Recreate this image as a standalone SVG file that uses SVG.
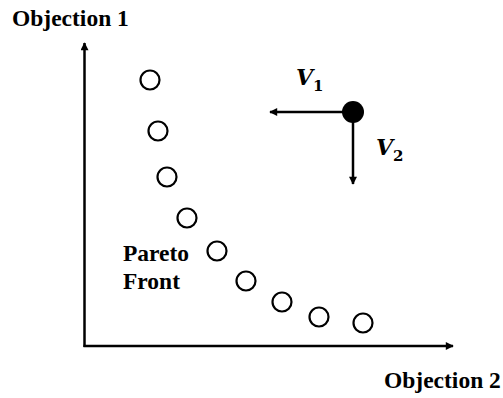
<svg xmlns="http://www.w3.org/2000/svg" width="503" height="398" viewBox="0 0 503 398">
<style>
.lbl{font-family:"Liberation Serif","Times New Roman",serif;font-weight:bold;font-size:23.5px;fill:#000}
.v{font-family:"DejaVu Serif","Liberation Serif",serif;font-weight:bold;font-style:italic;fill:#000}
.pt{fill:#fff;stroke:#000;stroke-width:2.2}
.ln{stroke:#000;stroke-width:2.5;fill:none}
</style>
<defs>
<marker id="ah" viewBox="0 0 10 10" refX="9" refY="5" markerWidth="9" markerHeight="8" markerUnits="userSpaceOnUse" orient="auto">
<path d="M0,0 L10,5 L0,10 Z" fill="#000"/>
</marker>
</defs>
<g id="connectors">
<line class="ln" x1="84.5" y1="347" x2="84.5" y2="43" marker-end="url(#ah)"/>
<line class="ln" x1="83.5" y1="346" x2="453" y2="346" marker-end="url(#ah)"/>
<line class="ln" x1="353" y1="112" x2="270" y2="112" marker-end="url(#ah)"/>
<line class="ln" x1="353" y1="112" x2="353" y2="184" marker-end="url(#ah)"/>
</g>
<g id="axis-y-label"><text class="lbl" x="12" y="26">Objection 1</text></g>
<g id="axis-x-label"><text class="lbl" x="384" y="388">Objection 2</text></g>
<g id="pareto-label"><text class="lbl" x="123" y="261">Pareto</text><text class="lbl" x="123" y="289">Front</text></g>
<g id="pareto-points">
<circle class="pt" cx="150" cy="80" r="9.5"/>
<circle class="pt" cx="158" cy="131" r="9.5"/>
<circle class="pt" cx="167" cy="177" r="9.5"/>
<circle class="pt" cx="187" cy="218" r="9.5"/>
<circle class="pt" cx="217" cy="251" r="9.5"/>
<circle class="pt" cx="246" cy="281" r="9.5"/>
<circle class="pt" cx="282" cy="302" r="9.5"/>
<circle class="pt" cx="319" cy="317" r="9.5"/>
<circle class="pt" cx="363" cy="323" r="9.5"/>
</g>
<g id="point"><circle cx="353" cy="112" r="11" fill="#000"/></g>
<g id="v1"><text class="v" x="296" y="85" font-size="22">V<tspan font-size="15" dy="6" font-style="normal">1</tspan></text></g>
<g id="v2"><text class="v" x="376" y="155" font-size="22">V<tspan font-size="15" dy="6" font-style="normal">2</tspan></text></g>
</svg>
